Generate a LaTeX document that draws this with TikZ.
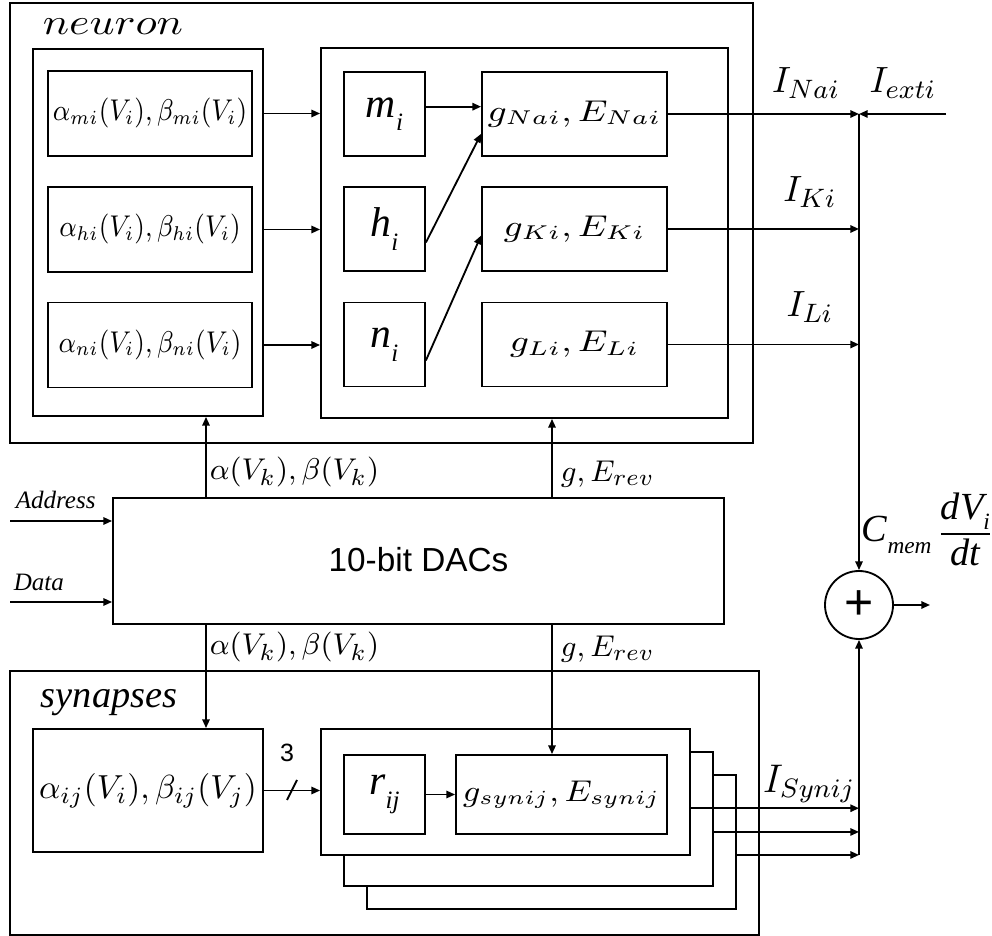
\documentclass[tikz,border=0pt]{standalone}
\usepackage{amsmath}
\usepackage{graphicx}
\usepackage{fontspec}
\newfontfamily\timesfont{Liberation Serif}
\newfontfamily\arialfont{Liberation Sans}
\usetikzlibrary{positioning,fit,arrows.meta}

\tikzset{
  blk/.style={draw, inner sep=0pt},
  backblk/.style={draw, fill=white, inner sep=0pt},
  ratebox/.style={blk, minimum width=61.2pt, minimum height=25.5pt},
  gatebox/.style={blk, minimum width=24.3pt, minimum height=25.2pt},
  condbox/.style={blk, minimum width=55.5pt, minimum height=25.2pt},
  lbl/.style={inner sep=0pt},
}
% Times italic letter with a low index
\newcommand{\gatevar}[2]{{\timesfont\itshape\fontsize{12.5}{13}\selectfont #1\raisebox{-0.7ex}{\fontsize{7.5}{8}\selectfont #2}}}
% rate labels
\newcommand{\rates}[1]{{\fontsize{9}{10}\selectfont\scalebox{0.88}[1]{$#1$}}}
% wide set conductance labels
\newcommand{\gE}[2][1.22]{{\fontsize{8.8}{10}\selectfont\scalebox{#1}[1]{$#2$}}}

\begin{document}
\begin{tikzpicture}[x=0.3pt,y=-0.3pt,>={Triangle[length=2.6pt,width=2.2pt]},line width=0.55pt,font=\fontsize{9.5}{11}\selectfont]
\useasboundingbox (0,0) rectangle (992,936);

% neuron part
\node (neuron) [blk, fit={(10,3) (753,443)}] {};
\node (neuronlbl) [lbl, anchor=base] at (113,35) {{\fontsize{11}{12}\selectfont\scalebox{1.2}[1]{$neuron$}}};
\node (ratebox) [blk, fit={(33,49) (263,416)}] {};
\node (gatebox) [blk, fit={(321,48) (728,418)}] {};

\node (am) [ratebox] at (150,113.5) {\rates{\alpha_{mi}(V_i),\beta_{mi}(V_i)}};
\node (ah) [ratebox] at (150,229.5) {\rates{\alpha_{hi}(V_i),\beta_{hi}(V_i)}};
\node (an) [ratebox] at (150,345) {\rates{\alpha_{ni}(V_i),\beta_{ni}(V_i)}};

\node (m) [gatebox] at (384.5,114) {\gatevar{m}{i}};
\node (h) [gatebox] at (384.5,229) {\gatevar{h}{i}};
\node (n) [gatebox] at (384.5,344.5) {\gatevar{n}{i}};

\node (gNa) [condbox] at (574.5,114) {\gE{g_{Nai},E_{Nai}}};
\node (gK) [condbox] at (574.5,229) {\gE{g_{Ki},E_{Ki}}};
\node (gL) [condbox] at (574.5,344.5) {\gE{g_{Li},E_{Li}}};

\draw[->] (am.east -| ratebox.east) -- (am.east -| gatebox.west);
\draw[->] (ah.east -| ratebox.east) -- (ah.east -| gatebox.west);
\draw[->] (an.east -| ratebox.east) -- (an.east -| gatebox.west);
\draw[->] (m.10) -- (m.10 -| gNa.west);
\draw[->] (h.-18) -- (gNa.192);
\draw[->] (n.-21) -- (gK.184);

% membrane sum
\node (sum) [draw, circle, minimum size=20.4pt, inner sep=0pt] at (859,605) {\arialfont\fontsize{15}{15}\selectfont +};
\coordinate (iext) at (946,114);
\coordinate (vout) at (930,605);
\draw[->] (gNa.east) -- (gNa.east -| sum);
\draw[->] (iext) -- (gNa.east -| sum);
\draw[->] (gNa.east -| sum) -- (sum);
\draw[->] (gK.east) -- (gK.east -| sum);
\draw[->] (gL.east) -- (gL.east -| sum);
\draw[->] (sum) -- (vout);

\node (ina) [lbl, anchor=base] at (806,93) {\fontsize{11}{12}\selectfont$I_{Nai}$};
\node (iex) [lbl, anchor=base] at (903,93) {\fontsize{11}{12}\selectfont$I_{exti}$};
\node (ik) [lbl, anchor=base] at (810,202) {\fontsize{11}{12}\selectfont$I_{Ki}$};
\node (il) [lbl, anchor=base] at (810,317) {\fontsize{11}{12}\selectfont$I_{Li}$};
\node (cm) [lbl, anchor=west] at (861,529) {{\timesfont\itshape\fontsize{11.5}{12}\selectfont C\raisebox{-0.7ex}{\fontsize{7}{8}\selectfont mem}}\,$\dfrac{\text{\timesfont\itshape\fontsize{11.5}{12}\selectfont dV\raisebox{-0.6ex}{\fontsize{7}{8}\selectfont i}}}{\text{\timesfont\itshape\fontsize{11.5}{12}\selectfont dt}}$};

% DAC block
\node (dac) [blk, minimum width=183.3pt, minimum height=37.8pt] at (418.5,561) {\arialfont\fontsize{10}{11}\selectfont\raisebox{1pt}{10-bit DACs}};
\coordinate (addr) at (10,521);
\coordinate (data) at (10,602);
\draw[->] (addr) -- (addr -| dac.west);
\draw[->] (data) -- (data -| dac.west);
\node (addrlbl) [lbl, anchor=base west] at (15,509) {\timesfont\itshape\fontsize{7.5}{8}\selectfont Address};
\node (datalbl) [lbl, anchor=base west] at (13,591) {\timesfont\itshape\fontsize{7.5}{8}\selectfont Data};

\coordinate (ak) at (206,498);
\coordinate (gk) at (552,498);
\draw[->] (ak) -- (ak |- ratebox.south);
\draw[->] (gk) -- (gk |- gatebox.south);
\node (abup) [lbl, anchor=base west] at (209,480) {$\alpha(V_k),\beta(V_k)$};
\node (geup) [lbl, anchor=base west] at (560,482) {$g,E_{rev}$};

% synapses part
\node (syn) [blk, fit={(10,671) (759,935)}] {};
\node (synlbl) [lbl, anchor=base west] at (40,708) {\timesfont\itshape\fontsize{11.5}{12}\selectfont synapses};
\node (aij) [blk, minimum width=69pt, minimum height=36.9pt] at (148,790.5) {\fontsize{10}{12}\selectfont$\alpha_{ij}(V_i),\beta_{ij}(V_j)$};

\node (s3) [backblk, fit={(367,775) (736,909)}] {};
\node (s2) [backblk, fit={(344,752) (713,886)}] {};
\node (s1) [backblk, fit={(321,729) (690,855)}] {};
\node (r) [blk, minimum width=24.3pt, minimum height=23.7pt] at (384.5,794.5) {\gatevar{r}{ij}};
\node (gs) [blk, minimum width=63.3pt, minimum height=23.7pt] at (561.5,794.5) {\gE[1.12]{g_{synij},E_{synij}}};

\draw[->] (ak |- dac.south) -- (ak |- aij.north);
\draw[->] (gk |- dac.south) -- (gk |- gs.north);
\node (abdn) [lbl, anchor=base west] at (209,655) {$\alpha(V_k),\beta(V_k)$};
\node (gedn) [lbl, anchor=base west] at (560,657) {$g,E_{rev}$};

\draw[->] (aij.east) -- (aij.east -| s1.west);
\coordinate (sl) at (292,790);
\draw (sl) ++(-5,10) -- ++(10,-20);
\node (three) [lbl] at (287,753) {\arialfont\fontsize{7.5}{8}\selectfont 3};
\draw[->] (r) -- (gs);

\draw[->] (s1.-5) -- (s1.-5 -| sum);
\draw[->] (s2.-4) -- (s2.-4 -| sum);
\draw[->] (s3.-4) -- (s3.-4 -| sum);
\draw[->] (s3.-4 -| sum) -- (sum);
\node (isyn) [lbl, anchor=base] at (809,792) {\fontsize{11.5}{12}\selectfont$I_{Synij}$};
\end{tikzpicture}
\end{document}
